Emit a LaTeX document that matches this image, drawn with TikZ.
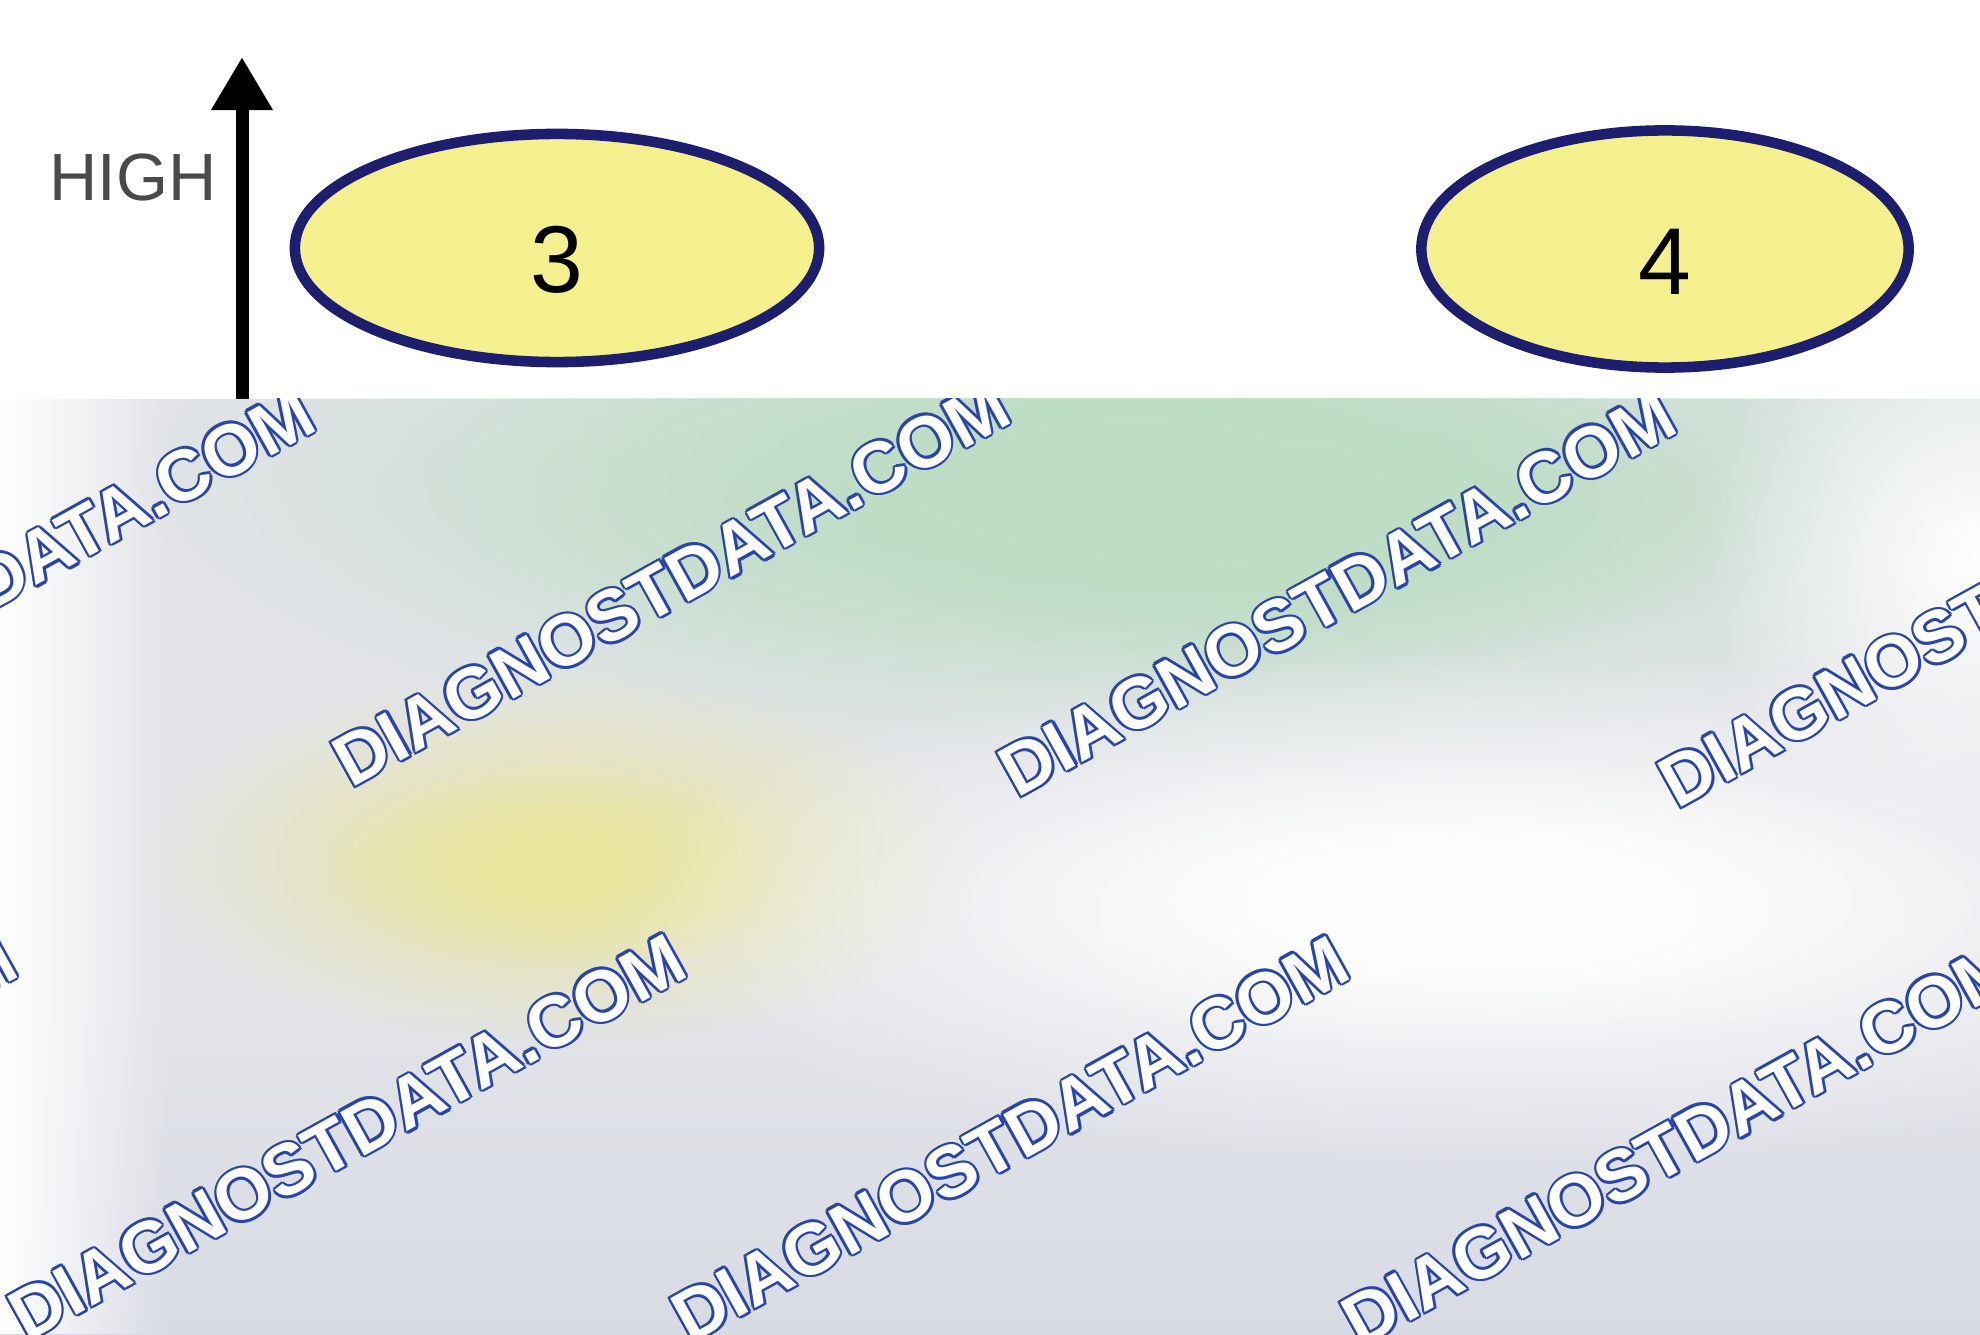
\documentclass[tikz,border=0pt]{standalone}
\usepackage{fontspec}
\setmainfont{Liberation Sans}
\usetikzlibrary{shapes.geometric,arrows.meta,fadings}
\definecolor{ovalfill}{HTML}{F4F08E}
\definecolor{ovalline}{HTML}{1E1E6E}
\definecolor{highgray}{HTML}{4A4A4A}
\definecolor{hazebase}{HTML}{E2E4E8}
\definecolor{hazegreen}{HTML}{BCDDC3}
\definecolor{hazeyellow}{HTML}{EAE69C}
\definecolor{hazeblue}{HTML}{D8DBE4}
\definecolor{wmblue}{HTML}{2A45A8}
\tikzfading[name=softblob, inner color=transparent!0, outer color=transparent!100]
\tikzfading[name=fadeleft, left color=transparent!0, right color=transparent!100]
% outlined text: blue copies round a white one
\newcommand\ringtext[1]{\leavevmode
  \rlap{\textcolor{wmblue}{\kern0.75pt#1}}%
  \rlap{\textcolor{wmblue}{\kern-0.75pt#1}}%
  \rlap{\textcolor{wmblue}{\raisebox{0.75pt}{#1}}}%
  \rlap{\textcolor{wmblue}{\raisebox{-0.75pt}{#1}}}%
  \rlap{\textcolor{wmblue}{\kern0.53pt\raisebox{0.53pt}{#1}}}%
  \rlap{\textcolor{wmblue}{\kern-0.53pt\raisebox{0.53pt}{#1}}}%
  \rlap{\textcolor{wmblue}{\kern0.53pt\raisebox{-0.53pt}{#1}}}%
  \rlap{\textcolor{wmblue}{\kern-0.53pt\raisebox{-0.53pt}{#1}}}%
  #1}
\tikzset{
  oval/.style={ellipse, draw=ovalline, line width=3pt, fill=ovalfill, inner sep=0pt,
    font=\fontsize{27}{30}\selectfont, text height=0.9cm},
  wmark/.style={text=white, font=\bfseries\fontsize{20.5}{24}\selectfont, inner sep=0pt},
}
\begin{document}
\begin{tikzpicture}[x=0.01cm,y=-0.01cm]
        \useasboundingbox (0,0) rectangle (1980,1334);
        \fill[white] (0,0) rectangle (1980,1334);

        \coordinate (low) at (242,470);
        \coordinate (top) at (242,57);
        \draw[line width=0.13cm, -{Triangle[length=0.53cm,width=0.58cm]}] (low) -- (top);
        \node[text=highgray, font=\fontsize{19}{22}\selectfont] (high) at (133,178) {HIGH};

        \node[oval, minimum width=5.24cm, minimum height=2.28cm] (three) at (557,248) {3};
        \node[oval, minimum width=4.87cm, minimum height=2.37cm] (four) at (1665,249) {4};

        % blurred lower part
        \begin{scope}
          \clip (0,399) rectangle (1980,1334);
          \fill[hazebase] (0,399) rectangle (1980,1334);
          \shade[top color=hazebase, bottom color=hazeblue] (0,1000) rectangle (1980,1334);
          \fill[white, path fading=fadeleft] (0,399) rectangle (170,1334);
          \fill[hazegreen, path fading=softblob] (1137,470) ellipse (1000 and 300);
          \fill[hazegreen, path fading=softblob] (1100,500) ellipse (750 and 200);
          \fill[hazegreen, path fading=softblob] (1300,520) ellipse (450 and 150);
          \fill[hazeyellow, path fading=softblob] (560,860) ellipse (420 and 190);
          \fill[hazeyellow, path fading=softblob] (560,870) ellipse (250 and 100);
          \fill[white, path fading=softblob] (1500,910) ellipse (900 and 260);
          \fill[white, path fading=softblob] (1450,900) ellipse (550 and 150);
          \fill[white, path fading=softblob] (1980,560) ellipse (280 and 280);

          \foreach \x/\y [count=\i] in {-24/591, 671/583, 1337/593, 1997/604, -322/1137, 347/1137, 1010/1139, 1680/1143}
            \node[wmark, rotate=29] (wm\i) at (\x,\y) {\ringtext{DIAGNOSTDATA.COM}};
        \end{scope}
      \end{tikzpicture}
\end{document}
